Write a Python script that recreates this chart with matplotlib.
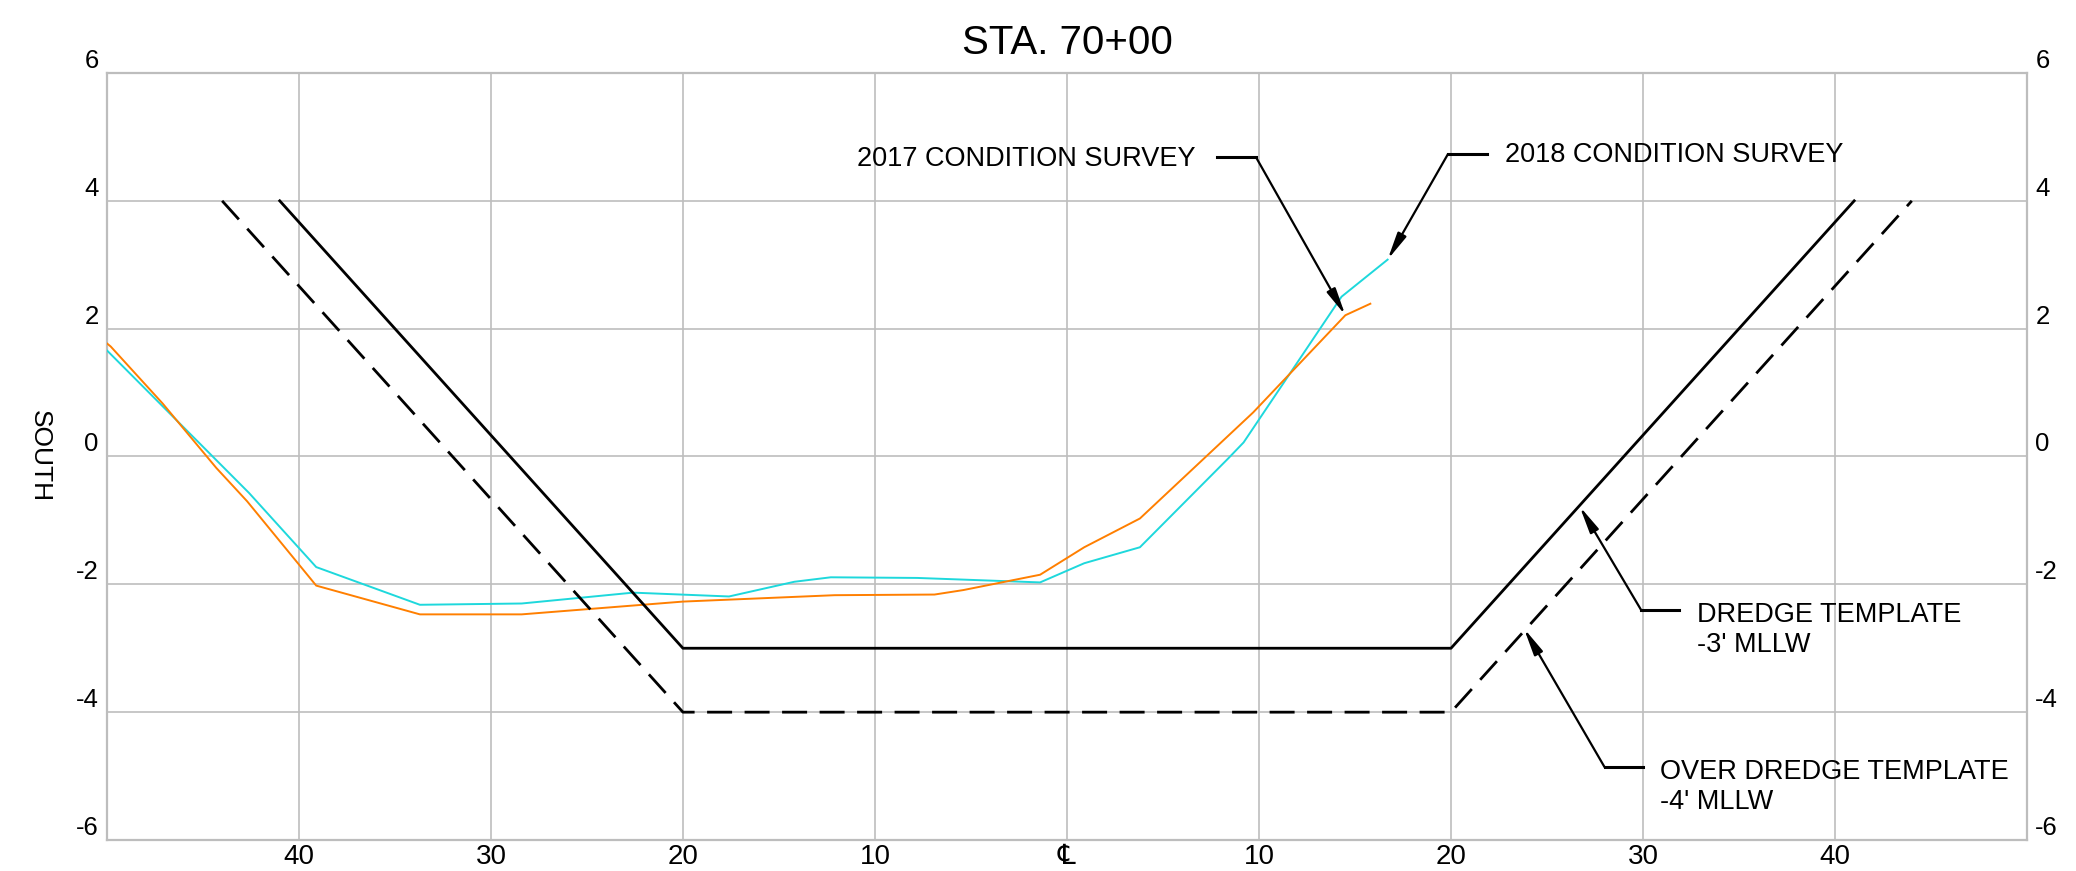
import matplotlib.pyplot as plt

plt.rcParams['font.family'] = ['Liberation Sans', 'DejaVu Sans']
plt.rcParams['axes.unicode_minus'] = False

# 2018 condition survey (cyan)
x_2018 = [-50, -49.8, -42.6, -39.1, -33.7, -28.4, -22.6, -17.6, -14.2, -12.3,
          -7.8, -1.4, 0.9, 3.8, 8.4, 9.2, 14.3, 16.7]
y_2018 = [1.66, 1.60, -0.57, -1.73, -2.32, -2.30, -2.13, -2.19, -1.96, -1.89,
          -1.90, -1.97, -1.67, -1.42, -0.03, 0.22, 2.50, 3.08]

# 2017 condition survey (orange)
x_2017 = [-50, -49.8, -47.1, -44.3, -42.7, -39.1, -33.7, -28.4, -20.0, -12.1,
          -6.9, -5.4, -1.4, 0.9, 3.8, 9.7, 14.5, 15.8]
y_2017 = [1.77, 1.72, 0.83, -0.18, -0.70, -2.02, -2.47, -2.47, -2.27, -2.17,
          -2.16, -2.09, -1.85, -1.42, -0.97, 0.69, 2.21, 2.39]

# dredge templates
tmpl_x = [-41, -20, 20, 41]
tmpl_y = [4, -3, -3, 4]
over_x = [-44, -20, 20, 44]
over_y = [4, -4, -4, 4]

x_ticks = [-40, -30, -20, -10, 0, 10, 20, 30, 40]
x_labels = ['40', '30', '20', '10', '\u2104', '10', '20', '30', '40']
y_ticks = [-6, -4, -2, 0, 2, 4, 6]

fig, ax = plt.subplots(figsize=(20.76, 8.71), dpi=100)
fig.subplots_adjust(left=0.0515, right=0.9764, top=0.9162, bottom=0.0356)

ax.plot(x_2018, y_2018, color='#1ED8DC', lw=1.4, zorder=3)
ax.plot(x_2017, y_2017, color='#FF7F00', lw=1.4, zorder=3)
ax.plot(tmpl_x, tmpl_y, color='black', lw=2.0, zorder=4)
ax.plot(over_x, over_y, color='black', lw=2.0, dashes=(9, 4.5), zorder=4)

ax.set_xlim(-50, 50)
ax.set_ylim(-6, 6)
ax.set_xticks(x_ticks)
ax.set_xticklabels(x_labels)
ax.set_yticks(y_ticks)
ax.grid(True, color='#BEBEBE', lw=1.2)
ax.set_axisbelow(True)
for sp in ax.spines.values():
    sp.set_color('#BDBDBD')
    sp.set_linewidth(1.6)

ax.tick_params(axis='x', length=0, pad=3, labelsize=20)
ax.tick_params(axis='y', length=0, pad=6, labelsize=18.5, labelright=True)
for t in ax.yaxis.get_major_ticks():
    t.label1.set_verticalalignment('bottom')
    t.label2.set_verticalalignment('bottom')

ax.set_title('STA. 70+00', fontsize=29, pad=14)
ax.set_ylabel('SOUTH', fontsize=19, rotation=270, va='center', ha='center')
ax.yaxis.set_label_coords(-0.035, 0.5)

arrow = dict(arrowstyle='-|>,head_length=0.9,head_width=0.16', color='black',
             lw=1.6, mutation_scale=18, shrinkA=0, shrinkB=0)
fs = 19.5

# 2017 leader
ax.text(6.7, 4.66, '2017 CONDITION SURVEY', fontsize=fs, ha='right', va='center')
ax.plot([7.8, 9.85], [4.68, 4.68], color='black', lw=2.2)
ax.annotate('', xy=(14.5, 2.21), xytext=(9.85, 4.68), arrowprops=arrow)

# 2018 leader
ax.text(22.8, 4.71, '2018 CONDITION SURVEY', fontsize=fs, ha='left', va='center')
ax.plot([19.84, 21.87], [4.73, 4.73], color='black', lw=2.2)
ax.annotate('', xy=(16.7, 3.08), xytext=(19.84, 4.73), arrowprops=arrow)

# dredge template leader
ax.text(32.8, -2.28, "DREDGE TEMPLATE\n-3' MLLW", fontsize=fs, ha='left', va='top',
        linespacing=1.2)
ax.plot([29.9, 31.9], [-2.40, -2.40], color='black', lw=2.2)
ax.annotate('', xy=(26.7, -0.78), xytext=(29.9, -2.40), arrowprops=arrow)

# over dredge template leader
ax.text(30.9, -4.73, "OVER DREDGE TEMPLATE\n-4' MLLW", fontsize=fs, ha='left', va='top',
        linespacing=1.2)
ax.plot([28.0, 30.0], [-4.86, -4.86], color='black', lw=2.2)
ax.annotate('', xy=(23.8, -2.69), xytext=(28.0, -4.86), arrowprops=arrow)

fig.savefig('out.png', dpi=100)
